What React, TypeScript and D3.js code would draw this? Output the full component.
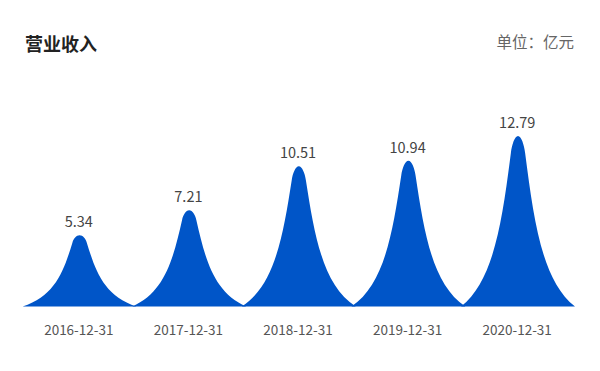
import React from "react";
import * as d3 from "d3";

const categories: string[] = ["2016-12-31", "2017-12-31", "2018-12-31", "2019-12-31", "2020-12-31"];
const revenue: number[] = [5.34, 7.21, 10.51, 10.94, 12.79];
const title = "营业收入";
const unitLabel = "单位：亿元";

const W = 600;
const H = 371;
const FONT = '"Microsoft YaHei", "Noto Sans CJK SC", "Noto Sans", sans-serif';

// peak symbol template: x relative to band centre (in band widths), y from tip (0) to base (1)
const PEAK =
  "M0,0 C0.03,0 0.055,0.05 0.065,0.1 C0.145,0.5 0.22,0.85 0.52,1 " +
  "L-0.52,1 C-0.22,0.85 -0.145,0.5 -0.065,0.1 C-0.055,0.05 -0.03,0 0,0 Z";

export default function App() {
  const x = d3.scaleBand<string>().domain(categories).range([24, 572]).padding(0);
  const y = d3.scaleLinear().domain([0, 15]).range([306.5, 106.5]);
  const base = y(0);
  const bw = x.bandwidth();

  return (
    <svg
      width={W}
      height={H}
      style={{ position: "fixed", left: 0, top: 0, display: "block", background: "#fff" }}
      fontFamily={FONT}
    >
      <text x={25} y={50.5} fontSize={18} fontWeight="bold" fill="#222">
        {title}
      </text>
      <text x={574} y={48} fontSize={15.5} fill="#666" textAnchor="end">
        {unitLabel}
      </text>
      {categories.map((c, i) => {
        const cx = (x(c) as number) + bw / 2 + 0.8;
        const top = y(revenue[i]);
        const h = base - top;
        return (
          <path
            key={c + "-bar"}
            d={PEAK}
            fill="#0055c8"
            transform={`translate(${cx},${top}) scale(${bw},${h})`}
          />
        );
      })}
      {categories.map((c, i) => {
        const cx = (x(c) as number) + bw / 2;
        const top = y(revenue[i]);
        return (
          <g key={c}>
            <text x={cx} y={top - 8} fontSize={14.5} fill="#444" textAnchor="middle">
              {revenue[i].toFixed(2)}
            </text>
            <text x={cx} y={334.5} fontSize={13.5} fill="#555" textAnchor="middle">
              {c}
            </text>
          </g>
        );
      })}
    </svg>
  );
}
